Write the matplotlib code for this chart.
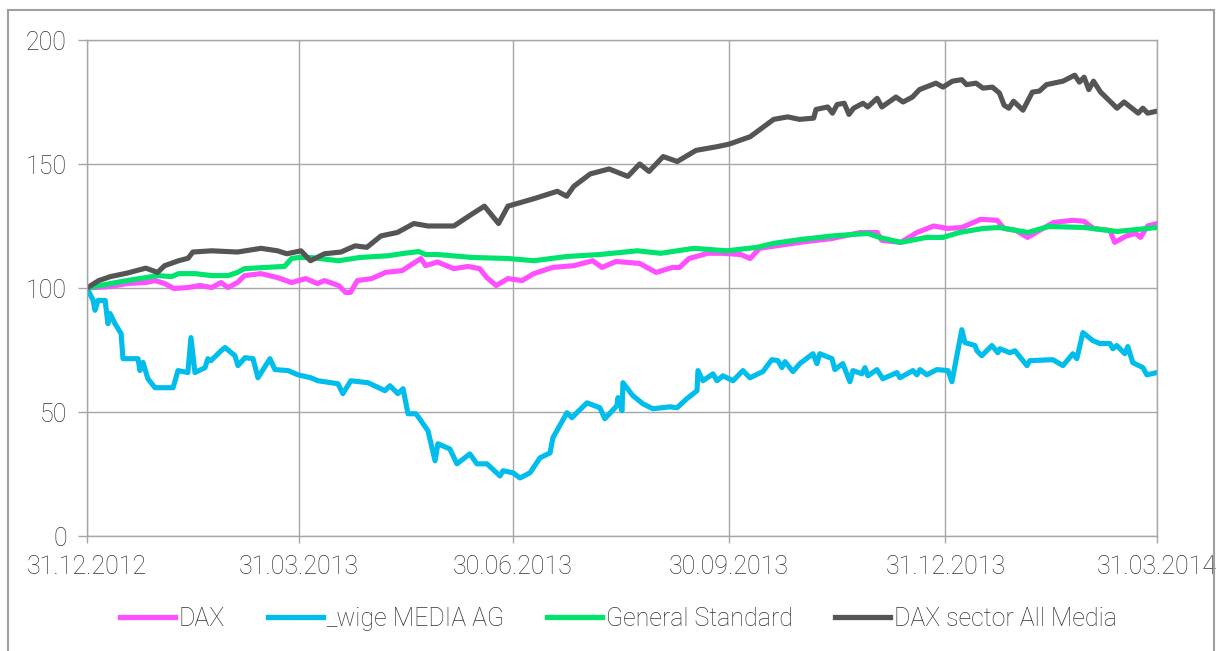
import numpy as np
import matplotlib
matplotlib.use("Agg")
import matplotlib.pyplot as plt
import matplotlib.dates as mdates
from matplotlib.lines import Line2D
from datetime import datetime

# days after 31.12.2012, values indexed to 100
dax_days = [0, 10, 17, 25, 29, 33, 37, 43, 48, 53, 57, 60, 64, 67, 74, 81, 87, 93, 98, 101,
            107, 110, 112, 115, 121, 127, 134, 142, 144, 149, 156, 162, 167, 170, 174, 179, 185, 190, 198, 207,
            215, 219, 225, 235, 242, 249, 252, 256, 264, 270, 278, 282, 286, 303, 317, 329, 336, 338, 346, 353,
            360, 366, 372, 380, 387, 390, 395, 400, 405, 411, 419, 424, 428, 435, 437, 442, 446, 448, 451, 455]
dax_vals = [100, 100.6, 101.8, 102.2, 103, 101.8, 99.8, 100.2, 101, 100.2, 102.2, 100.2, 102.2, 105, 105.8, 104.2, 102.2, 103.8, 101.8, 103,
            101, 98.2, 98.2, 103, 103.8, 106.3, 107, 111.9, 109, 110.5, 107.8, 108.7, 107.8, 104.2, 101, 103.8, 103, 105.8, 108.3, 109,
            111, 108.3, 110.7, 109.9, 106.3, 108.3, 108.3, 111.9, 114, 114, 113.5, 111.9, 116, 118.4, 120, 122.4, 122.4, 119.2, 118.4, 122.4,
            125, 124, 124.4, 127.7, 127.3, 124, 123.2, 120.4, 123.2, 126.4, 127.3, 126.9, 124, 123.2, 118.4, 121, 122, 120.4, 125, 126]

wige_days = [0, 2.6, 3.4, 4.7, 7.7, 8.9, 9.8, 11.9, 14.5, 15.3, 21.7, 22.5, 23.8, 25.9, 28.9, 36.6, 38.7, 42.9, 44.2, 45.9,
             50.2, 51.4, 52.7, 57, 58.7, 62.9, 64.2, 67.2, 70.6, 72.7, 77.8, 79.9, 85.5, 89.7, 95.2, 98.2, 106.7, 108.8, 112.2, 119.5,
             126.7, 128.8, 132.2, 134.4, 136.5, 139.9, 142, 145, 148, 149.2, 154.3, 157.3, 162.8, 165.8, 170.1, 175.6, 176.9, 181.1, 184.1, 188.4,
             192.6, 196.9, 198.1, 204.1, 206.2, 208.3, 212.6, 218.1, 220.2, 225.3, 225.8, 227.5, 227.9, 232.1, 236.4, 240.6, 247.9, 250.9, 255.1, 259.4,
             259.8, 261.9, 266.2, 267.9, 270.4, 274.7, 278.9, 281.9, 287.4, 291.2, 293.8, 295.5, 296.8, 300.2, 303.1, 308.7, 310.4, 311.6, 316.8, 318,
             321.4, 324.4, 325.7, 329.5, 330.8, 332.1, 335.9, 338.4, 344.4, 345.7, 351.2, 352.9, 354.2, 357.1, 361.4, 366.1, 367.8, 372, 373.3, 377.6,
             378.4, 380.5, 384.8, 387.3, 388.2, 392.4, 394.6, 399.7, 400.9, 410.7, 415, 419.2, 420.9, 423.5, 427.7, 430.7, 435, 436.2, 437.9, 441.3,
             442.6, 444.7, 449, 450.7, 455]
wige_vals = [100, 95, 91, 95, 95, 85.6, 89.7, 85.6, 81.6, 71.5, 71.5, 66.7, 70, 63.4, 59.8, 59.8, 66.7, 65.9, 80, 65.9,
             67.9, 71.5, 70.7, 74.7, 76, 72.7, 68.7, 71.9, 71.5, 63.8, 71.5, 67.1, 66.7, 65, 63.8, 62.6, 61.4, 57.4, 62.6, 61.8,
             58.6, 60.6, 57.4, 59.4, 49.3, 49.3, 46.5, 42.4, 30.3, 37.2, 35.1, 29.1, 33.1, 29.1, 29.1, 24.2, 26.3, 25.5, 23.4, 25.5,
             31.5, 33.5, 39.6, 49.7, 47.7, 49.7, 53.7, 51.7, 47.3, 52.5, 55.8, 50.5, 61.8, 56.6, 53.3, 51.3, 52.1, 51.7, 55.4, 58.6,
             66.7, 62.6, 65.4, 62.6, 64.6, 62.6, 66.7, 63.8, 66.3, 71.1, 70.7, 67.9, 70.3, 66.3, 69.5, 73.5, 69.5, 73.5, 71.5, 67.1,
             69.5, 62.2, 66.7, 65.4, 67.9, 64.6, 67.1, 63.4, 65.9, 63.8, 66.7, 65, 67.1, 65, 67.1, 66.7, 62.2, 83.2, 78, 76.8,
             74.7, 72.7, 76.8, 73.9, 75.5, 73.9, 74.7, 68.7, 70.7, 71.1, 68.7, 73.5, 71.5, 82, 78.8, 77.6, 77.6, 75.5, 76.8, 73.5,
             76.4, 69.9, 67.9, 65, 65.9]

gs_days = [0, 10, 17, 25, 30, 36, 39, 46, 53, 60, 64, 67, 76, 84, 87, 90, 95, 107, 116, 128,
           135, 141, 144, 149, 164, 179, 190, 204, 218, 234, 244, 258, 272, 285, 292, 303, 317, 332, 337, 346,
           357, 364, 371, 381, 388, 400, 409, 424, 438, 455]
gs_vals = [100, 101.8, 103, 104.2, 105, 104.6, 105.8, 105.8, 105, 105, 106.3, 107.8, 108.3, 108.7, 111.9, 112.3, 112.3, 111, 112.3, 113,
           114, 114.7, 113.5, 113.5, 112.3, 111.9, 111, 112.7, 113.5, 115, 114, 116, 115, 116.4, 118, 119.5, 121, 122, 120.4, 118.4,
           120.4, 120.4, 122.4, 124, 124.4, 122.4, 124.8, 124.4, 122.8, 124.4]

media_days = [0, 5, 10, 17, 25, 30, 33, 39, 43, 45, 53, 64, 74, 81, 85, 91, 95, 101, 108, 114,
              119, 125, 132, 139, 145, 156, 164, 169, 175, 179, 190, 200, 204, 207, 214, 222, 230, 235, 239, 245,
              251, 259, 268, 273, 282, 292, 298, 303, 309, 310, 315, 317, 319, 322, 324, 326, 330, 332, 336, 338,
              344, 347, 351, 354, 361, 364, 368, 372, 374, 378, 381, 385, 388, 390, 392, 394, 398, 402, 405, 408,
              415, 420, 422, 424, 426, 428, 431, 438, 441, 447, 449, 451, 455]
media_vals = [100, 103, 104.6, 106, 108, 106.3, 109, 111, 112, 114.5, 115, 114.5, 116, 115, 113.8, 115, 111, 113.8, 114.5, 117,
              116.4, 121, 122.4, 126, 125, 125, 130, 133, 126, 133, 136, 139, 137, 141, 146, 148, 145, 150, 147, 153,
              151, 155.5, 157, 158, 161, 168, 169, 168, 168.5, 172, 173, 170.5, 174, 174.5, 170, 172.5, 174.5, 173, 176.5, 173,
              177, 175, 177, 180, 182.6, 181, 183.4, 184, 182, 182.6, 180.6, 181, 178.6, 173.7, 172.5, 175.3, 171.7, 179, 179.4, 182,
              183.4, 185.8, 183, 185, 180, 183.4, 179, 172.5, 175, 170.5, 172.5, 170.5, 171.3]

tick_dates = [datetime(2012, 12, 31), datetime(2013, 3, 31), datetime(2013, 6, 30),
              datetime(2013, 9, 30), datetime(2013, 12, 31), datetime(2014, 3, 31)]

series = [
    ("DAX", dax_days, dax_vals, "#ff50ff"),
    ("_wige MEDIA AG", wige_days, wige_vals, "#00bdeb"),
    ("General Standard", gs_days, gs_vals, "#00e46e"),
    ("DAX sector All Media", media_days, media_vals, "#555555"),
]

plt.rcParams['font.family'] = ['Roboto', 'DejaVu Sans']
txt_col = "#333333"
grid_col = "#a6a6a6"
fsize = 18

fig = plt.figure(figsize=(12.2, 6.51), dpi=100)
ax = fig.add_axes([87 / 1220, 1 - 536 / 651, 1070 / 1220, 496 / 651])

base = mdates.date2num(datetime(2012, 12, 31))
handles, names = [], []
for name, d, v, c in series:
    ln, = ax.plot(base + np.array(d), v, color=c, lw=3.7, solid_joinstyle="round")
    handles.append(ln)
    names.append(name)

ax.set_ylim(0, 200)
ax.set_yticks([0, 50, 100, 150, 200])
ax.set_xlim(mdates.date2num(tick_dates[0]), mdates.date2num(tick_dates[-1]))
ax.set_xticks(mdates.date2num(tick_dates))
ax.xaxis.set_major_formatter(mdates.DateFormatter("%d.%m.%Y"))

ax.grid(True, color=grid_col, lw=1.0)
ax.set_axisbelow(True)
for s in ax.spines.values():
    s.set_color(grid_col)
    s.set_linewidth(1.0)
ax.tick_params(axis="y", length=6.5, width=1.0, color=grid_col, pad=8,
               labelsize=fsize, labelcolor=txt_col)
ax.tick_params(axis="x", length=5, width=1.0, color=grid_col, pad=9,
               labelsize=fsize, labelcolor=txt_col)
for lab in ax.get_xticklabels() + ax.get_yticklabels():
    lab.set_fontweight("light")

# names passed explicitly so the leading underscore label is kept
leg = fig.legend(handles, names, loc="center", bbox_to_anchor=(0.507, 0.049), ncol=4,
                 frameon=False, fontsize=fsize, handlelength=2.2, handletextpad=0.15,
                 columnspacing=1.7)
for t in leg.get_texts():
    t.set_color(txt_col)
    t.set_fontweight("light")
for h in leg.get_lines():
    h.set_linewidth(3.8)

# outer frame
fw, fh = 1220, 651
fig.add_artist(Line2D([8 / fw, 8 / fw], [0, 1 - 10 / fh], color="#a0a0a0", lw=1.5))
fig.add_artist(Line2D([8 / fw, 1214 / fw], [1 - 10 / fh, 1 - 10 / fh], color="#a0a0a0", lw=1.5))
fig.add_artist(Line2D([1214 / fw, 1214 / fw], [0, 1 - 10 / fh], color="#a0a0a0", lw=1.5))

fig.savefig("out.png", dpi=100)
